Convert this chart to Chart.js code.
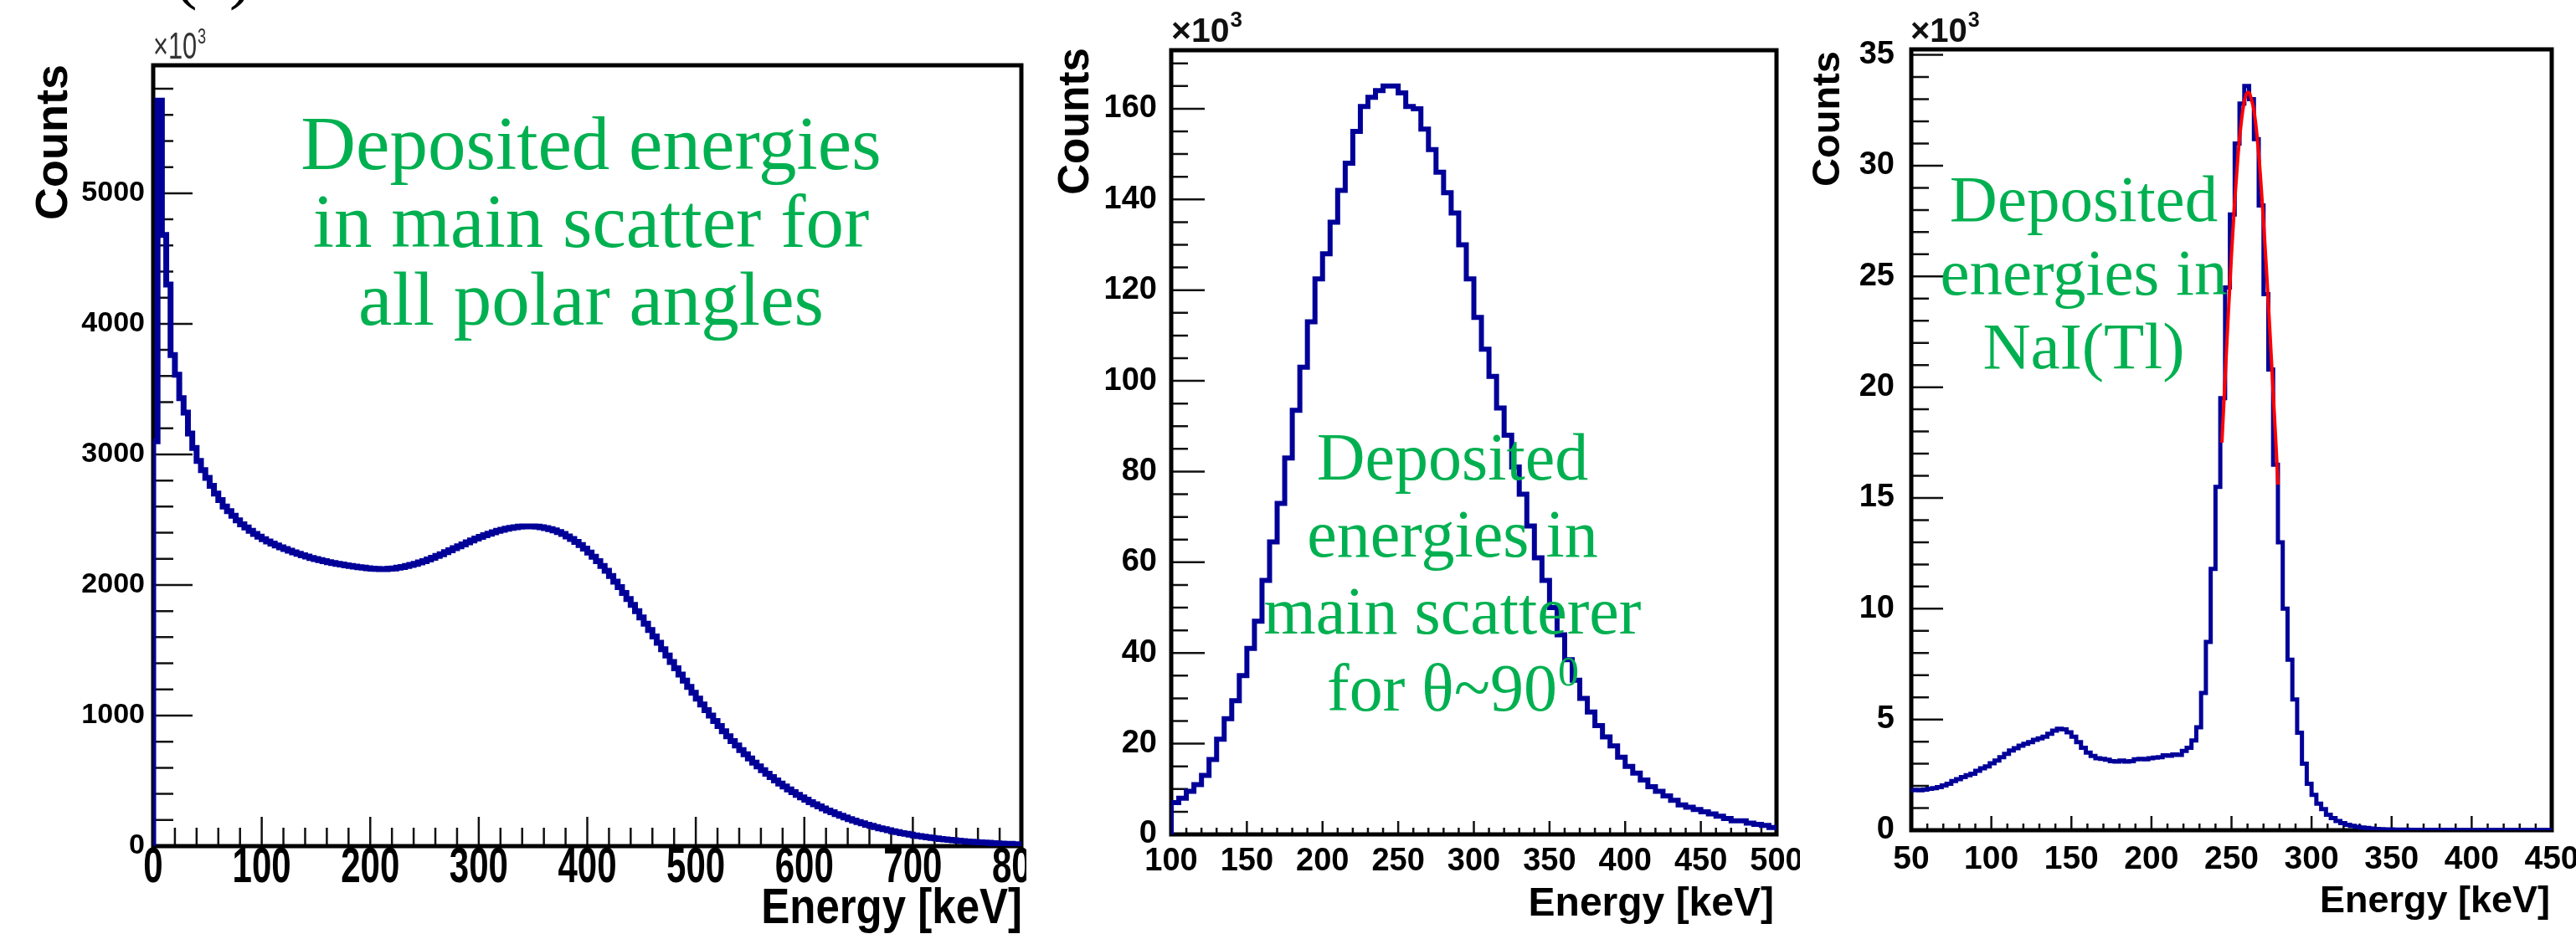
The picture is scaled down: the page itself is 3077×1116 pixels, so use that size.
<!DOCTYPE html>
<html>
<head>
<meta charset="utf-8">
<script src="https://cdn.jsdelivr.net/npm/chart.js@4.4.1/dist/chart.umd.min.js"></script>
<style>
  html, body { margin: 0; padding: 0; background: #fff; }
  body { width: 3077px; height: 1116px; position: relative; overflow: hidden; }
  canvas { position: absolute; top: 0; }
</style>
</head>
<body>
<canvas id="allAngles" style="left:0px" width="1226" height="1116"></canvas>
<canvas id="theta90" style="left:1230px" width="920" height="1116"></canvas>
<canvas id="nai" style="left:2150px" width="927" height="1116"></canvas>
<script>
// counts are in units of 10^3

// deposited energy in main scatterer, all polar angles: 4 keV bins from 0 keV
const allAnglesStart = 0;
const allAnglesBin = 4;
const allAnglesCounts = [
  3100, 5710, 4680, 4300, 3760, 3610, 3430, 3320, 3160, 3050,
  2950, 2880, 2820, 2760, 2700, 2650, 2600, 2565, 2530, 2495,
  2465, 2440, 2415, 2390, 2370, 2350, 2333, 2317, 2302, 2288,
  2275, 2262, 2250, 2238, 2227, 2217, 2207, 2198, 2190, 2182,
  2175, 2168, 2162, 2156, 2150, 2145, 2140, 2136, 2132, 2128,
  2125, 2123, 2122, 2122, 2124, 2127, 2132, 2138, 2145, 2153,
  2162, 2172, 2183, 2195, 2208, 2222, 2236, 2251, 2266, 2281,
  2296, 2311, 2326, 2341, 2355, 2368, 2381, 2393, 2404, 2414,
  2423, 2431, 2437, 2442, 2446, 2448, 2449, 2448, 2446, 2442,
  2436, 2428, 2418, 2405, 2390, 2372, 2352, 2330, 2305, 2278,
  2248, 2216, 2182, 2146, 2108, 2068, 2026, 1983, 1939, 1893,
  1847, 1800, 1752, 1704, 1655, 1606, 1557, 1508, 1459, 1410,
  1362, 1314, 1267, 1220, 1174, 1129, 1085, 1042, 1000, 959,
  919, 880, 842, 805, 770, 736, 703, 671, 640, 610,
  582, 554, 528, 503, 479, 456, 434, 413, 393, 374,
  355, 337, 320, 304, 288, 273, 259, 245, 232, 219,
  207, 196, 185, 174, 164, 155, 146, 137, 129, 121,
  114, 107, 100, 94, 88, 82, 77, 72, 67, 63,
  59, 55, 51, 48, 45, 42, 39, 36, 34, 31,
  29, 27, 25, 23, 21, 20, 18, 17, 15, 14
];
const allAnglesXTicks = [0, 100, 200, 300, 400, 500, 600, 700, 800];
const allAnglesYTicks = [0, 1000, 2000, 3000, 4000, 5000];

// main scatterer, theta ~ 90 deg: 5 keV bins from 100 keV
const theta90Start = 100;
const theta90Bin = 5;
const theta90Counts = [
  7, 8, 9.5, 11, 13, 16.5, 21, 25.5, 29.5, 35,
  41, 47, 56, 64.5, 73, 83, 93.5, 103, 113, 122.5,
  128, 135, 142, 148, 155, 160.5, 162.5, 164, 165, 165,
  163.5, 160.5, 160, 155.5, 151, 146, 141.5, 137, 130, 122.5,
  114, 107, 101, 94, 88, 81, 75, 68, 61, 56,
  50, 44, 38.5, 34, 30, 27, 24, 21.5, 19.5, 17,
  15, 13.5, 12, 10.5, 9.5, 8.5, 7.5, 6.5, 6, 5.5,
  5, 4.5, 4, 3.5, 3, 3, 2.5, 2.2, 2, 1.5
];
const theta90XTicks = [100, 150, 200, 250, 300, 350, 400, 450, 500];
const theta90YTicks = [0, 20, 40, 60, 80, 100, 120, 140, 160];

// NaI(Tl): 3 keV bins from 48 keV
const naiStart = 48;
const naiBin = 3;
const naiCounts = [
  1.80, 1.82, 1.80, 1.83, 1.87, 1.90, 1.95, 2.02, 2.10, 2.22,
  2.30, 2.40, 2.48, 2.55, 2.68, 2.80, 2.88, 3.02, 3.15, 3.30,
  3.45, 3.60, 3.70, 3.82, 3.90, 3.98, 4.08, 4.15, 4.22, 4.35,
  4.50, 4.58, 4.55, 4.42, 4.22, 3.98, 3.72, 3.50, 3.35, 3.25,
  3.22, 3.18, 3.12, 3.10, 3.15, 3.10, 3.12, 3.20, 3.22, 3.20,
  3.25, 3.28, 3.30, 3.38, 3.36, 3.42, 3.40, 3.58, 3.72, 4.05,
  4.65, 6.20, 8.50, 11.8, 15.5, 19.5, 24.5, 27.8, 31.0, 32.8,
  33.6, 33.0, 31.2, 28.2, 24.2, 20.8, 16.5, 13.0, 10.0, 7.7,
  5.9, 4.4, 3.0, 2.1, 1.6, 1.2, 0.95, 0.70, 0.55, 0.42,
  0.32, 0.25, 0.20, 0.15, 0.12, 0.10, 0.08, 0.06, 0.05, 0.04,
  0.04, 0.03, 0.03, 0.03, 0.02, 0.02, 0.02, 0.02, 0.02, 0.02,
  0.02, 0.02, 0.02, 0.02, 0.01, 0.01, 0.01, 0.01, 0.01, 0.01,
  0.01, 0.01, 0.01, 0.01, 0.01, 0.01, 0.01, 0.01, 0.01, 0.01,
  0.01, 0.01, 0.01, 0.01
];
// gaussian fit over the photopeak (red)
const naiFitEnergy = [244, 246, 248, 250, 252, 254, 256, 258, 260, 261, 262, 264, 266, 268, 270, 272, 274, 276, 278, 279];
const naiFitCounts = [17.5, 20.4, 23.3, 26.0, 28.4, 30.4, 31.9, 32.9, 33.3, 33.3, 33.1, 32.5, 31.3, 29.6, 27.5, 25.1, 22.5, 19.8, 17.1, 15.6];
const naiXTicks = [50, 100, 150, 200, 250, 300, 350, 400, 450];
const naiYTicks = [0, 5, 10, 15, 20, 25, 30, 35];

const BLUE = '#000099';
const GREEN = '#00b050';

function histPoints(start, width, counts) {
  const pts = [{x: start, y: 0}];
  counts.forEach((c, i) => pts.push({x: start + i * width, y: c}));
  pts.push({x: start + counts.length * width, y: counts[counts.length - 1]});
  return pts;
}

function forTicks(min, max, minor, major, fn) {
  const k0 = Math.ceil(min / minor - 1e-9), k1 = Math.floor(max / minor + 1e-9);
  for (let k = k0; k <= k1; k++) {
    const v = k * minor;
    const r = v / major;
    fn(v, Math.abs(r - Math.round(r)) < 1e-6);
  }
}

function drawText(ctx, str, x, y, font, o = {}) {
  ctx.save();
  ctx.font = font;
  ctx.fillStyle = o.color || '#000';
  ctx.textAlign = o.align || 'center';
  ctx.textBaseline = 'middle';
  ctx.translate(x, y);
  if (o.rotate) ctx.rotate(o.rotate);
  ctx.scale(o.sx || 1, 1);
  ctx.fillText(str, 0, 0);
  ctx.restore();
}

// text with a raised suffix, e.g. x10^3 or 90^0
function drawSup(ctx, base, sup, x, y, font, supFont, rise, o = {}) {
  ctx.save();
  ctx.fillStyle = o.color || '#000';
  ctx.textBaseline = 'middle';
  ctx.textAlign = 'left';
  ctx.translate(x, y);
  ctx.scale(o.sx || 1, 1);
  ctx.font = font;
  const wb = ctx.measureText(base).width;
  ctx.font = supFont;
  const ws = ctx.measureText(sup).width;
  const x0 = o.align === 'center' ? -(wb + ws) / 2 : 0;
  ctx.font = font;
  ctx.fillText(base, x0, 0);
  ctx.font = supFont;
  ctx.fillText(sup, x0 + wb + 1, -rise);
  ctx.restore();
}

function rootPanel(cfg) {
  return {
    id: 'rootPanel',
    beforeDatasetsDraw(chart) {
      const {ctx, chartArea: a, scales: {x, y}} = chart;
      ctx.save();
      ctx.strokeStyle = '#111';
      ctx.lineWidth = 2.5;
      ctx.beginPath();
      forTicks(x.min, x.max, cfg.xMinor, cfg.xMajor, (v, major) => {
        const px = x.getPixelForValue(v);
        ctx.moveTo(px, a.bottom);
        ctx.lineTo(px, a.bottom - (major ? cfg.xMajorLen : cfg.xMinorLen));
      });
      forTicks(y.min, y.max, cfg.yMinor, cfg.yMajor, (v, major) => {
        const py = y.getPixelForValue(v);
        ctx.moveTo(a.left, py);
        ctx.lineTo(a.left + (major ? cfg.yMajorLen : cfg.yMinorLen), py);
      });
      ctx.stroke();
      ctx.strokeStyle = '#000';
      ctx.lineWidth = 5;
      ctx.strokeRect(a.left, a.top, a.right - a.left, a.bottom - a.top);
      ctx.restore();
    },
    afterDraw(chart) {
      const {ctx, scales: {x, y}} = chart;
      const xl = cfg.xLabel, yl = cfg.yLabel;
      cfg.xTicks.forEach(v => drawText(ctx, String(v), x.getPixelForValue(v), xl.y, xl.font, {sx: xl.sx}));
      cfg.yTicks.forEach(v => drawText(ctx, String(v), yl.x, y.getPixelForValue(v), yl.font, {align: 'right'}));
      const xt = cfg.xTitle;
      drawText(ctx, 'Energy [keV]', xt.x, xt.y, xt.font, {align: 'right', sx: xt.sx});
      const yt = cfg.yTitle;
      drawText(ctx, 'Counts', yt.x, yt.y, yt.font, {rotate: -Math.PI / 2});
      const m = cfg.power;
      drawSup(ctx, '\u00d710', '3', m.x, m.y, m.font, m.supFont, m.rise, {sx: m.sx, color: m.color});
      const n = cfg.note;
      n.lines.forEach((line, i) => {
        const yy = n.y + i * n.gap;
        if (line.sup) {
          drawSup(ctx, line.text, line.sup, n.x, yy, n.font, n.supFont, n.rise, {align: 'center', color: GREEN});
        } else {
          drawText(ctx, line.text, n.x, yy, n.font, {color: GREEN});
        }
      });
      if (cfg.extra) cfg.extra(ctx);
    }
  };
}

function makePanel(id, cfg) {
  const canvas = document.getElementById(id);
  const W = canvas.width, H = canvas.height, a = cfg.area;
  return new Chart(canvas, {
    type: 'line',
    data: { datasets: cfg.datasets },
    options: {
      responsive: false,
      animation: false,
      devicePixelRatio: 1,
      layout: { padding: { left: 0, top: a.top, right: W - a.right, bottom: 0 } },
      plugins: { legend: { display: false }, tooltip: { enabled: false } },
      elements: { point: { radius: 0 } },
      scales: {
        x: {
          type: 'linear', min: cfg.xMin, max: cfg.xMax,
          grid: { display: false }, border: { display: false }, ticks: { display: false },
          afterFit: s => { s.height = H - a.bottom; }
        },
        y: {
          type: 'linear', min: 0, max: cfg.yMax,
          grid: { display: false }, border: { display: false }, ticks: { display: false },
          afterFit: s => { s.width = a.left; }
        }
      }
    },
    plugins: [rootPanel(cfg)]
  });
}

const sans = '"Liberation Sans", Arial, sans-serif';
const serif = '"Liberation Serif", "Times New Roman", serif';

makePanel('allAngles', {
  area: { left: 183, top: 78, right: 1220, bottom: 1011 },
  xMin: 0, xMax: 800, yMax: 5980,
  xMajor: 100, xMinor: 20, xMajorLen: 35, xMinorLen: 22,
  yMajor: 1000, yMinor: 200, yMajorLen: 47, yMinorLen: 24,
  xTicks: allAnglesXTicks, yTicks: allAnglesYTicks,
  xLabel: { y: 1037, font: `bold 60px ${sans}`, sx: 0.7 },
  yLabel: { x: 173, font: `bold 34px ${sans}` },
  xTitle: { x: 1221, y: 1086, font: `bold 60px ${sans}`, sx: 0.85 },
  yTitle: { x: 65, y: 170, font: `bold 54px ${sans}` },
  power: { x: 183, y: 58, font: `44px ${sans}`, supFont: `26px ${sans}`, rise: 13, sx: 0.7, color: '#333' },
  note: {
    x: 706, y: 178, gap: 93, font: `91px ${serif}`,
    lines: [{text: 'Deposited energies'}, {text: 'in main scatter for'}, {text: 'all polar angles'}]
  },
  extra: ctx => {
    ctx.save();
    ctx.font = `86px ${serif}`;
    ctx.fillStyle = '#000';
    ctx.textBaseline = 'alphabetic';
    ctx.fillText('(a)', 207, -6);
    ctx.restore();
  },
  datasets: [{
    data: histPoints(allAnglesStart, allAnglesBin, allAnglesCounts),
    stepped: 'before', borderColor: BLUE, borderWidth: 7, fill: false, borderJoinStyle: 'miter'
  }]
});

makePanel('theta90', {
  area: { left: 169, top: 60, right: 892, bottom: 997 },
  xMin: 100, xMax: 500, yMax: 172.9,
  xMajor: 50, xMinor: 10, xMajorLen: 16, xMinorLen: 8,
  yMajor: 20, yMinor: 5, yMajorLen: 40, yMinorLen: 20,
  xTicks: theta90XTicks, yTicks: theta90YTicks,
  xLabel: { y: 1030, font: `bold 38px ${sans}` },
  yLabel: { x: 152, font: `bold 38px ${sans}` },
  xTitle: { x: 889, y: 1081, font: `bold 48px ${sans}` },
  yTitle: { x: 56, y: 145, font: `bold 51px ${sans}` },
  power: { x: 169, y: 39, font: `bold 41px ${sans}`, supFont: `bold 26px ${sans}`, rise: 14, color: '#111' },
  note: {
    x: 505, y: 552, gap: 92, font: `80px ${serif}`, supFont: `50px ${serif}`, rise: 22,
    lines: [{text: 'Deposited'}, {text: 'energies in'}, {text: 'main scatterer'}, {text: 'for \u03b8~90', sup: '0'}]
  },
  datasets: [{
    data: histPoints(theta90Start, theta90Bin, theta90Counts),
    stepped: 'before', borderColor: BLUE, borderWidth: 6, fill: false, borderJoinStyle: 'miter'
  }]
});

makePanel('nai', {
  area: { left: 133, top: 59, right: 898, bottom: 992 },
  xMin: 50, xMax: 450, yMax: 35.25,
  xMajor: 50, xMinor: 10, xMajorLen: 17, xMinorLen: 8,
  yMajor: 5, yMinor: 1, yMajorLen: 38, yMinorLen: 21,
  xTicks: naiXTicks, yTicks: naiYTicks,
  xLabel: { y: 1027, font: `bold 39px ${sans}` },
  yLabel: { x: 113, font: `bold 38px ${sans}` },
  xTitle: { x: 896, y: 1078, font: `bold 45px ${sans}` },
  yTitle: { x: 34, y: 142, font: `bold 47px ${sans}` },
  power: { x: 132, y: 39, font: `bold 40px ${sans}`, supFont: `bold 25px ${sans}`, rise: 14, color: '#111' },
  note: {
    x: 339, y: 243, gap: 88, font: `79px ${serif}`,
    lines: [{text: 'Deposited'}, {text: 'energies in'}, {text: 'NaI(Tl)'}]
  },
  datasets: [{
    data: naiFitEnergy.map((e, i) => ({x: e, y: naiFitCounts[i]})),
    borderColor: '#ff0000', borderWidth: 4, fill: false, cubicInterpolationMode: 'monotone', order: 0
  }, {
    data: histPoints(naiStart, naiBin, naiCounts),
    stepped: 'before', borderColor: BLUE, borderWidth: 5, fill: false, borderJoinStyle: 'miter', order: 1
  }]
});
</script>
</body>
</html>
